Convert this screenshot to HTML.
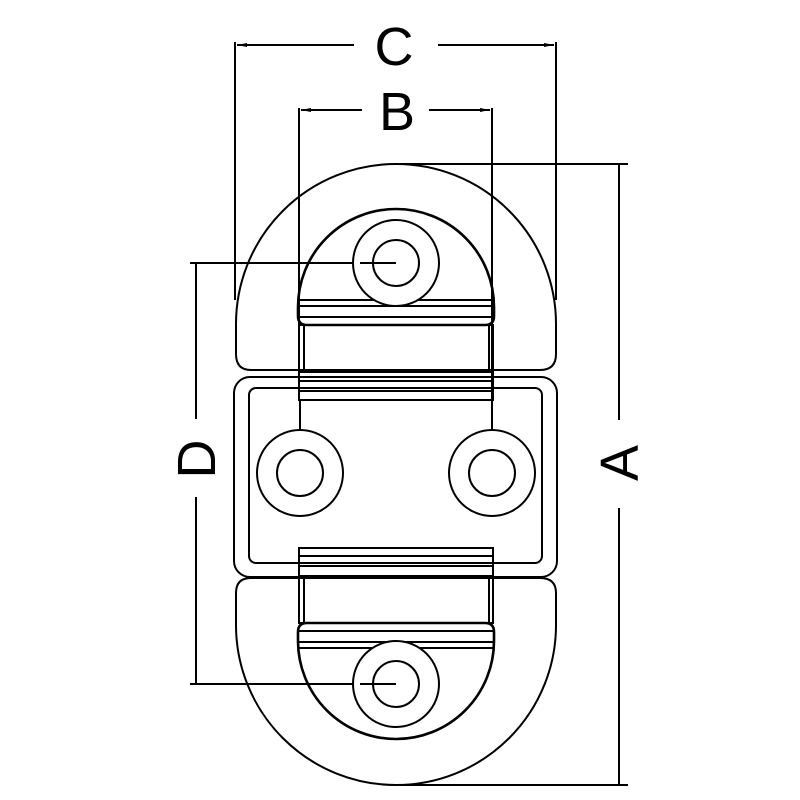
<!DOCTYPE html>
<html><head><meta charset="utf-8"><style>html,body{margin:0;padding:0;background:#fff}svg{display:block}</style></head>
<body>
<svg width="800" height="800" viewBox="0 0 800 800" xmlns="http://www.w3.org/2000/svg">
<defs>
<marker id="ar" markerWidth="10" markerHeight="6" refX="10" refY="3" orient="auto" markerUnits="userSpaceOnUse"><path d="M0,1 L10,3 L0,5 Z" fill="#000"/></marker>
</defs>
<g fill="none" stroke="#000" stroke-width="2">
<!-- dimension C -->
<line x1="235" y1="42" x2="235" y2="300"/>
<line x1="556" y1="42" x2="556" y2="300"/>
<line x1="354" y1="45" x2="237" y2="45" marker-end="url(#ar)"/>
<line x1="438" y1="45" x2="554" y2="45" marker-end="url(#ar)"/>
<!-- dimension B -->
<line x1="299" y1="108" x2="299" y2="400"/>
<line x1="492" y1="108" x2="492" y2="400"/>
<line x1="362" y1="110" x2="301" y2="110" marker-end="url(#ar)"/>
<line x1="429" y1="110" x2="490" y2="110" marker-end="url(#ar)"/>
<!-- dimension A -->
<line x1="400" y1="164" x2="628" y2="164"/>
<line x1="400" y1="785" x2="628" y2="785"/>
<line x1="619" y1="164" x2="619" y2="420"/>
<line x1="619" y1="508" x2="619" y2="785"/>
<!-- dimension D -->
<line x1="190" y1="263" x2="396" y2="263"/>
<line x1="190" y1="684" x2="396" y2="684"/>
<line x1="196" y1="263" x2="196" y2="419"/>
<line x1="196" y1="497" x2="196" y2="684"/>

<!-- top outer D -->
<path d="M236,324 A160,160 0 0 1 556,324 L556,354 Q556,370 540,370 L251,370 Q236,370 236,354 Z"/>
<!-- bottom outer D -->
<path d="M236,625 A160,160 0 0 0 556,625 L556,593 Q556,578 540,578 L251,578 Q236,578 236,593 Z"/>
<!-- middle plate -->
<rect x="234" y="377" width="323" height="200" rx="16"/>
<rect x="249" y="388" width="293" height="175" rx="7"/>

<!-- top inner D -->
<path d="M298,307 A98,98 0 0 1 494,307 L494,316 Q494,325 485,325 L307,325 Q298,325 298,316 Z" stroke-width="2.6"/>
<line x1="299" y1="300" x2="493" y2="300"/>
<line x1="299" y1="306" x2="493" y2="306"/>
<line x1="299" y1="317" x2="493" y2="317"/>
<rect x="299" y="325" width="194" height="47"/>
<line x1="304" y1="325" x2="304" y2="372"/>
<line x1="489" y1="325" x2="489" y2="372"/>
<rect x="299" y="372" width="194" height="28"/>
<line x1="299" y1="381" x2="493" y2="381"/>
<line x1="299" y1="391" x2="493" y2="391"/>

<!-- bottom inner D -->
<rect x="299" y="548" width="194" height="28"/>
<line x1="299" y1="556" x2="493" y2="556"/>
<line x1="299" y1="566" x2="493" y2="566"/>
<rect x="299" y="576" width="194" height="47"/>
<line x1="304" y1="576" x2="304" y2="623"/>
<line x1="489" y1="576" x2="489" y2="623"/>
<path d="M298,641 A98,98 0 0 0 494,641 L494,632 Q494,623 485,623 L307,623 Q298,623 298,632 Z" stroke-width="2.6"/>
<line x1="299" y1="631" x2="493" y2="631"/>
<line x1="299" y1="642" x2="493" y2="642"/>
<line x1="299" y1="648" x2="493" y2="648"/>

<!-- bolts -->
<circle cx="396" cy="263" r="43" fill="#fff"/><circle cx="396" cy="263" r="23"/>
<circle cx="396" cy="684" r="43" fill="#fff"/><circle cx="396" cy="684" r="23"/>
<circle cx="300" cy="473" r="43" fill="#fff"/><circle cx="300" cy="473" r="23"/>
<circle cx="492" cy="473" r="43" fill="#fff"/><circle cx="492" cy="473" r="23"/>
<line x1="300" y1="400" x2="300" y2="430"/>
<line x1="492" y1="400" x2="492" y2="430"/>
<line x1="360" y1="263" x2="396" y2="263"/>
<line x1="360" y1="684" x2="396" y2="684"/>
</g>
<g font-family="'Liberation Sans', 'DejaVu Sans', sans-serif" font-size="54" fill="#000" text-anchor="middle">
<text x="394" y="65">C</text>
<text x="397" y="130">B</text>
<text transform="translate(215,459) rotate(-90)">D</text>
<text transform="translate(638,463) rotate(-90)">A</text>
</g>
</svg>
</body></html>
